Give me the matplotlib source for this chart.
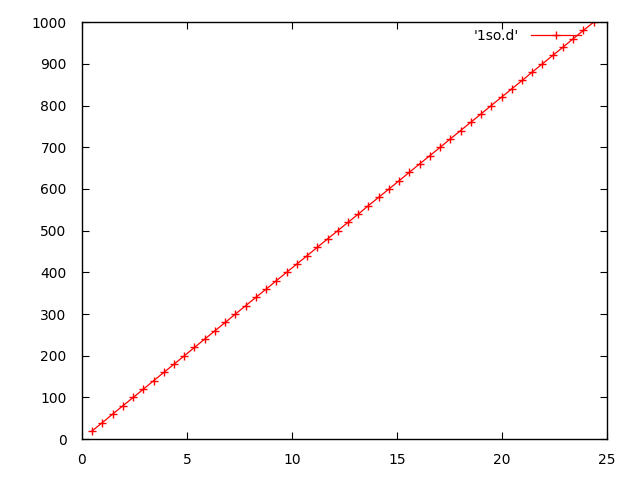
import matplotlib
matplotlib.use("Agg")
import matplotlib.pyplot as plt

# values
x_vals = [0.49, 0.98, 1.46, 1.95, 2.44, 2.93, 3.41, 3.90, 4.39, 4.88,
          5.36, 5.85, 6.34, 6.83, 7.31, 7.80, 8.29, 8.78, 9.26, 9.75,
          10.24, 10.73, 11.21, 11.70, 12.19, 12.68, 13.17, 13.65, 14.14, 14.63,
          15.12, 15.60, 16.09, 16.58, 17.07, 17.55, 18.04, 18.53, 19.02, 19.50,
          19.99, 20.48, 20.97, 21.45, 21.94, 22.43, 22.92, 23.40, 23.89, 24.38]
y_vals = [20, 40, 60, 80, 100, 120, 140, 160, 180, 200,
          220, 240, 260, 280, 300, 320, 340, 360, 380, 400,
          420, 440, 460, 480, 500, 520, 540, 560, 580, 600,
          620, 640, 660, 680, 700, 720, 740, 760, 780, 800,
          820, 840, 860, 880, 900, 920, 940, 960, 980, 1000]
series_label = "'1so.d'"

fig = plt.figure(figsize=(6.4, 4.8), dpi=100)
ax = fig.add_axes([0.128, 0.085, 0.82, 0.869])

ax.plot(x_vals, y_vals, color="red", lw=0.9, marker="+", ms=6, mew=1,
        label=series_label)

ax.set_xlim(0, 25)
ax.set_ylim(0, 1000)
ax.set_xticks(range(0, 26, 5))
ax.set_yticks(range(0, 1001, 100))
ax.tick_params(direction="in", top=True, right=True, length=5, labelsize=10)
ax.tick_params(axis="x", pad=10)
ax.tick_params(axis="y", pad=11)
for s in ax.spines.values():
    s.set_linewidth(1)

ax.legend(loc="upper right", bbox_to_anchor=(0.965, 1.0), frameon=False,
          markerfirst=False, handlelength=3.6, fontsize=10,
          borderaxespad=0.1, handletextpad=0.9)

fig.savefig("out.png", dpi=100)
